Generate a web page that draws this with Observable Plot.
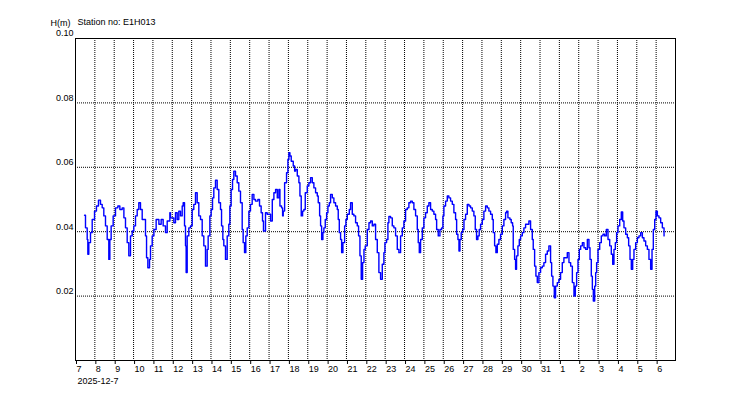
<!DOCTYPE html>
<html>
<head>
<meta charset="utf-8">
<script src="https://cdn.jsdelivr.net/npm/d3@7"></script>
<script src="https://cdn.jsdelivr.net/npm/@observablehq/plot@0.6"></script>
<style>
  html, body { margin: 0; padding: 0; background: #fff; }
  svg { display: block; }
</style>
</head>
<body>
<div id="chart"></div>
<script>
const stationLabel = "Station no: E1H013";
const yLabel = "H(m)";
const startLabel = "2025-12-7";
const startDate = Date.UTC(2025, 11, 7);
const endDate = Date.UTC(2026, 0, 7);
const yTicks = [0.02, 0.04, 0.06, 0.08, 0.10];
const yGrid = [0.02, 0.04, 0.06, 0.08];

// hours since 2025-12-07 00:00
const hours = [
  11.2,12.4,14.5,15.3,16.5,18.6,20.7,23.6,26.0,28.5,31.0,33.1,35.1,37.2,39.3,41.3,42.6,44.2,46.7,49.6,
  52.5,55.0,57.9,60.0,62.0,64.1,66.1,68.2,70.3,72.3,74.4,76.5,78.5,80.6,82.7,84.7,86.8,88.1,89.7,91.8,
  93.0,95.1,97.2,100.0,103.4,106.2,108.7,111.6,113.7,117.0,
  117.8,121.9,124.0,126.1,128.1,130.2,132.3,133.5,135.2,136.4,137.2,138.5,140.5,142.6,144.7,146.7,148.8,150.9,152.9,155.0,
  157.1,159.1,161.2,163.3,164.5,166.6,168.2,169.9,171.5,173.6,175.7,177.7,179.8,181.1,182.7,183.9,186.0,188.1,190.1,191.4,
  193.0,194.7,196.3,198.4,200.5,202.5,204.6,206.7,207.9,209.6,211.2,212.9,215.0,217.0,219.1,221.2,223.2,226.1,228.2,230.2,
  231.9,233.1,235.6,237.7,
  241.9,244.0,246.0,248.1,250.2,252.2,253.5,255.5,256.8,257.6,259.3,261.7,263.4,264.6,265.9,267.5,270.0,271.7,272.9,275.0,
  277.0,278.3,279.9,281.6,283.2,284.9,287.4,289.4,291.5,293.6,295.6,297.7,299.8,301.0,302.7,303.9,305.2,306.8,308.0,309.7,
  311.4,313.0,314.7,316.3,318.4,320.4,322.5,324.6,325.8,327.1,328.7,330.0,331.6,333.7,335.3,337.0,339.5,341.1,343.2,345.2,
  347.3,349.4,351.0,352.7,354.3,356.0,357.7,359.3,361.8,363.9,
  365.9,368.0,370.0,372.1,374.2,376.2,378.3,380.4,382.4,383.7,385.7,387.4,388.6,390.7,392.8,394.8,396.9,399.0,401.0,403.1,
  405.2,407.2,409.3,411.4,413.4,415.5,417.6,419.6,421.7,423.8,425.0,426.3,427.9,430.0,432.0,434.1,436.2,438.2,440.3,442.4,
  444.4,446.5,447.8,449.8,451.9,454.0,455.6,456.8,458.9,461.0,463.0,465.1,467.2,469.2,471.3,472.6,474.2,475.5,476.7,478.3,
  480.0,481.7,483.7,485.8,487.9,
  489.9,492.0,494.0,495.7,497.3,499.0,500.6,502.3,504.4,506.4,508.5,510.6,512.6,514.7,516.8,518.0,519.7,521.3,523.0,525.0,
  527.1,529.2,531.2,533.3,534.5,536.2,538.7,540.3,542.0,542.8,544.5,545.7,546.9,548.6,550.3,551.9,554.0,556.0,558.1,560.2,
  562.2,564.3,566.4,567.6,569.3,570.9,572.6,574.6,576.7,578.8,580.8,582.9,585.0,587.0,589.1,590.4,592.0,593.7,595.3,597.4,
  599.4,601.5,603.6,605.6,607.7,609.8,611.9,
  614.0,616.1,618.1,619.8,621.4,623.1,624.7,626.4,628.5,630.5,632.6,634.7,636.7,638.0,639.6,640.9,642.1,643.8,645.0,646.2,
  647.9,650.0,652.0,654.1,656.2,658.2,660.3,662.4,664.4,666.1,667.7,669.4,671.0,672.7,674.8,676.8,678.5,680.1,682.2,684.3,
  685.9,687.6,689.2,690.9,692.5,694.6,696.7,698.7,700.8,702.9,704.9,707.0,709.1,711.1,713.2,714.9,716.5,718.2,719.8,721.5,
  723.5,725.6,727.7,729.8
];

// water level H (m)
const levels = [
  0.0451,0.0412,0.0376,0.0330,0.0366,0.0397,0.0438,0.0464,0.0480,0.0498,0.0485,0.0474,0.0449,0.0418,0.0376,0.0314,0.0376,0.0418,0.0449,0.0474,
  0.0480,0.0469,0.0474,0.0443,0.0412,0.0366,0.0325,0.0387,0.0402,0.0418,0.0449,0.0469,0.0490,0.0469,0.0438,0.0438,0.0387,0.0319,0.0288,0.0314,
  0.0356,0.0387,0.0407,0.0438,0.0423,0.0438,0.0418,0.0397,0.0433,0.0459,
  0.0443,0.0428,0.0459,0.0438,0.0464,0.0449,0.0480,0.0490,0.0418,0.0356,0.0273,0.0387,0.0412,0.0418,0.0469,0.0485,0.0521,0.0490,0.0449,0.0438,
  0.0387,0.0356,0.0293,0.0345,0.0387,0.0449,0.0469,0.0505,0.0536,0.0560,0.0531,0.0490,0.0469,0.0418,0.0376,0.0356,0.0314,0.0387,0.0423,0.0480,
  0.0531,0.0562,0.0588,0.0573,0.0552,0.0526,0.0490,0.0407,0.0366,0.0335,0.0387,0.0412,0.0464,0.0485,0.0516,0.0500,0.0495,0.0500,0.0480,0.0459,
  0.0433,0.0402,0.0459,0.0454,
  0.0433,0.0500,0.0521,0.0531,0.0505,0.0531,0.0480,0.0474,0.0449,0.0464,0.0552,0.0583,0.0624,0.0645,0.0635,0.0619,0.0604,0.0588,0.0593,0.0573,
  0.0552,0.0511,0.0449,0.0464,0.0469,0.0521,0.0542,0.0552,0.0568,0.0552,0.0536,0.0521,0.0511,0.0490,0.0449,0.0418,0.0376,0.0397,0.0412,0.0438,
  0.0459,0.0480,0.0490,0.0516,0.0505,0.0490,0.0480,0.0469,0.0438,0.0397,0.0376,0.0335,0.0366,0.0418,0.0438,0.0454,0.0469,0.0490,0.0454,0.0449,
  0.0428,0.0418,0.0387,0.0325,0.0252,0.0304,0.0345,0.0356,0.0407,0.0428,
  0.0433,0.0418,0.0423,0.0376,0.0335,0.0273,0.0252,0.0299,0.0335,0.0366,0.0376,0.0428,0.0447,0.0443,0.0418,0.0412,0.0387,0.0345,0.0335,0.0387,
  0.0412,0.0433,0.0469,0.0474,0.0490,0.0495,0.0490,0.0469,0.0449,0.0407,0.0366,0.0335,0.0376,0.0412,0.0443,0.0459,0.0480,0.0490,0.0469,0.0464,
  0.0454,0.0438,0.0407,0.0387,0.0407,0.0412,0.0449,0.0480,0.0495,0.0511,0.0505,0.0495,0.0485,0.0459,0.0438,0.0392,0.0376,0.0340,0.0376,0.0397,
  0.0407,0.0438,0.0454,0.0485,0.0480,
  0.0474,0.0464,0.0449,0.0407,0.0376,0.0387,0.0407,0.0423,0.0438,0.0464,0.0480,0.0474,0.0464,0.0454,0.0438,0.0397,0.0356,0.0335,0.0361,0.0376,
  0.0392,0.0418,0.0438,0.0459,0.0464,0.0443,0.0438,0.0428,0.0418,0.0345,0.0314,0.0283,0.0325,0.0356,0.0376,0.0387,0.0397,0.0412,0.0423,0.0423,
  0.0433,0.0407,0.0376,0.0345,0.0293,0.0262,0.0242,0.0273,0.0288,0.0293,0.0304,0.0330,0.0340,0.0356,0.0304,0.0262,0.0231,0.0195,0.0231,0.0242,
  0.0252,0.0273,0.0304,0.0319,0.0319,0.0335,0.0304,
  0.0293,0.0242,0.0200,0.0231,0.0273,0.0314,0.0345,0.0356,0.0366,0.0350,0.0345,0.0376,0.0350,0.0314,0.0262,0.0221,0.0185,0.0231,0.0273,0.0304,
  0.0345,0.0366,0.0387,0.0392,0.0387,0.0407,0.0376,0.0356,0.0330,0.0299,0.0345,0.0366,0.0397,0.0418,0.0438,0.0461,0.0433,0.0412,0.0392,0.0381,
  0.0356,0.0314,0.0283,0.0314,0.0345,0.0366,0.0381,0.0387,0.0397,0.0381,0.0371,0.0356,0.0345,0.0314,0.0283,0.0345,0.0407,0.0438,0.0464,0.0449,
  0.0443,0.0428,0.0412,0.0387
];

const series = hours.map((h, i) => ({ date: new Date(startDate + h * 3600e3), h: levels[i] }));
const days = d3.utcDay.range(new Date(startDate), new Date(endDate));
const gridDays = days.slice(1);

const font = "'Liberation Sans', Arial, sans-serif";

const chart = Plot.plot({
  width: 750,
  height: 400,
  marginLeft: 75,
  marginRight: 75,
  marginTop: 38,
  marginBottom: 40,
  style: { fontFamily: font, fontSize: "9px", color: "#000", background: "#fff" },
  x: { type: "utc", domain: [new Date(startDate), new Date(endDate)] },
  y: { domain: [0, 0.10] },
  marks: [
    Plot.ruleY(yGrid, { stroke: "#000", strokeDasharray: "1,1", strokeWidth: 1 }),
    Plot.ruleX(gridDays, { stroke: "#000", strokeDasharray: "1,1", strokeWidth: 1 }),
    Plot.line(series, { x: "date", y: "h", stroke: "#0000ff", strokeWidth: 1.4, curve: "step-after" }),
    Plot.frame({ stroke: "#000" }),
    Plot.axisX(days, {
      tickSize: 4,
      tickPadding: 1,
      textAnchor: "start",
      dx: 1,
      tickFormat: d => String(d.getUTCDate()),
      label: null,
      fill: "#000"
    }),
    Plot.axisY(yTicks, {
      tickSize: 0,
      tickPadding: 2,
      dy: -5,
      tickFormat: d3.format(".2f"),
      label: null,
      fill: "#000"
    }),
    Plot.text([stationLabel], { frameAnchor: "top-left", dx: 2, dy: -20, text: d => d, textAnchor: "start", fill: "#000" }),
    Plot.text([yLabel], { frameAnchor: "top-left", dx: -5, dy: -19, text: d => d, textAnchor: "end", fill: "#000" }),
    Plot.text([startLabel], { frameAnchor: "bottom-left", dx: 2, dy: 23, text: d => d, textAnchor: "start", fill: "#000" })
  ]
});

document.getElementById("chart").appendChild(chart);
</script>
</body>
</html>
